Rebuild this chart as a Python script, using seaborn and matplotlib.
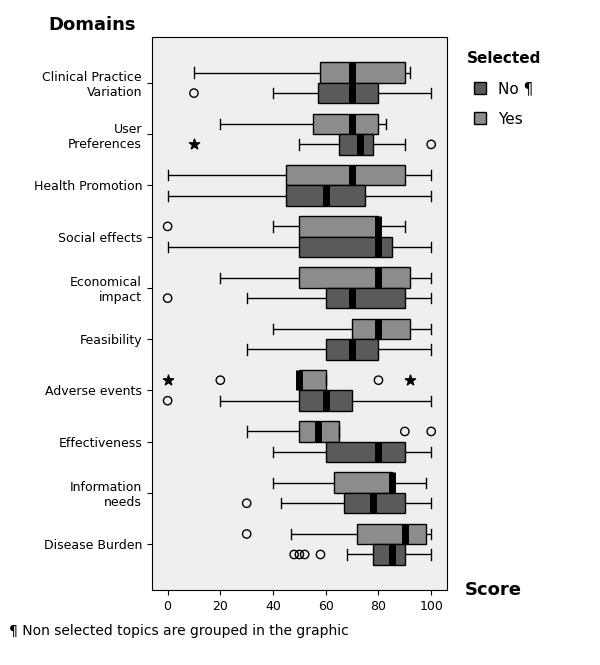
import numpy as np
import pandas as pd
import matplotlib
matplotlib.use('Agg')
import matplotlib.pyplot as plt
import seaborn as sns

domains = ['Clinical Practice\nVariation', 'User\nPreferences', 'Health Promotion', 'Social effects',
           'Economical\nimpact', 'Feasibility', 'Adverse events', 'Effectiveness',
           'Information\nneeds', 'Disease Burden']

# five-number summaries [whisker low, q1, median, q3, whisker high]
yes_stats = [[10, 58, 70, 90, 92], [20, 55, 70, 80, 83], [0, 45, 70, 90, 100], [40, 50, 80, 80, 90],
             [20, 50, 80, 92, 100], [40, 70, 80, 92, 100], [50, 50, 50, 60, 60], [30, 50, 57, 65, 65],
             [40, 63, 85, 85, 98], [47, 72, 90, 98, 100]]
no_stats = [[40, 57, 70, 80, 100], [50, 65, 73, 78, 90], [0, 45, 60, 75, 100], [0, 50, 80, 85, 100],
            [30, 60, 70, 90, 100], [30, 60, 70, 80, 100], [20, 50, 60, 70, 100], [40, 60, 80, 90, 100],
            [43, 67, 78, 90, 100], [68, 78, 85, 90, 100]]

# outliers: (domain index, group, value, marker)
outliers = [(0, 'No', 10, 'o'), (1, 'No', 10, '*'), (1, 'No', 100, 'o'), (3, 'Yes', 0, 'o'),
            (4, 'No', 0, 'o'), (6, 'Yes', 0, '*'), (6, 'Yes', 20, 'o'), (6, 'Yes', 80, 'o'),
            (6, 'Yes', 92, '*'), (6, 'No', 0, 'o'), (7, 'Yes', 90, 'o'), (7, 'Yes', 100, 'o'),
            (8, 'No', 30, 'o'), (9, 'Yes', 30, 'o'), (9, 'No', 48, 'o'), (9, 'No', 50, 'o'),
            (9, 'No', 52, 'o'), (9, 'No', 58, 'o')]

rows = []
for d, ys, ns in zip(domains, yes_stats, no_stats):
    for v in ys:
        rows.append({'Domain': d, 'Selected': 'Yes', 'Score': v})
    for v in ns:
        rows.append({'Domain': d, 'Selected': 'No', 'Score': v})
df = pd.DataFrame(rows)

fig = plt.figure(figsize=(6, 6.65), dpi=100)
ax = fig.add_axes([0.253, 0.113, 0.492, 0.831])
ax.set_facecolor('#efefef')

pal = {'Yes': '#8c8c8c', 'No': '#5a5a5a'}
sns.boxplot(data=df, x='Score', y='Domain', hue='Selected', hue_order=['Yes', 'No'],
            order=domains, palette=pal, whis=(0, 100), width=0.8, linewidth=1,
            linecolor='black', saturation=1, ax=ax,
            medianprops=dict(color='black', linewidth=5, solid_capstyle='butt'),
            capprops=dict(color='black'), whiskerprops=dict(color='black'))

for i, g, v, m in outliers:
    y = i + (-0.2 if g == 'Yes' else 0.2)
    if m == 'o':
        ax.scatter(v, y, s=36, facecolors='none', edgecolors='black', linewidths=1, zorder=5)
    else:
        ax.scatter(v, y, s=60, marker='*', color='black', zorder=5)

ax.set_xlim(-6, 106)
ax.set_xticks([0, 20, 40, 60, 80, 100])
ax.set_xlabel('')
ax.set_ylabel('')
ax.tick_params(labelsize=9)
for s in ax.spines.values():
    s.set_color('black')

h, l = ax.get_legend_handles_labels()
ax.legend([h[1], h[0]], ['No ¶', 'Yes'], title='Selected', bbox_to_anchor=(1.02, 1.0),
          loc='upper left', frameon=False, fontsize=11, title_fontproperties={'weight': 'bold', 'size': 11},
          handlelength=0.8, handleheight=0.8, labelspacing=1.0)

fig.text(0.08, 0.955, 'Domains', fontsize=13, fontweight='bold')
fig.text(0.775, 0.105, 'Score', fontsize=13, fontweight='bold')
fig.text(0.015, 0.045, '¶ Non selected topics are grouped in the graphic', fontsize=10)

fig.savefig('out.png')
